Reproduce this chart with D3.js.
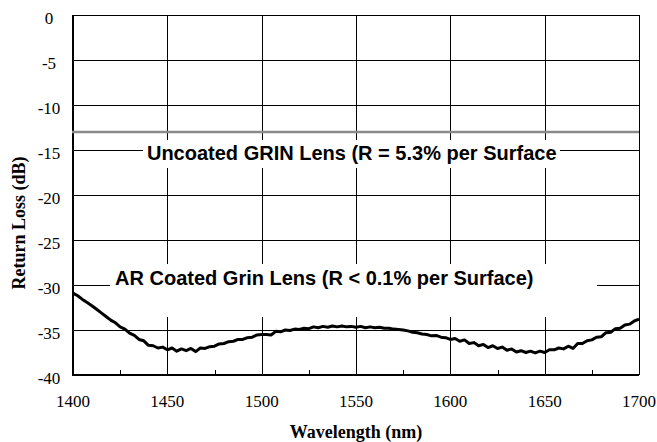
<!DOCTYPE html>
<html>
<head>
<meta charset="utf-8">
<script src="https://cdn.jsdelivr.net/npm/d3@7"></script>
<style>
  html, body { margin: 0; padding: 0; background: #fff; }
  svg { display: block; }
</style>
</head>
<body>
<svg id="chart" width="657" height="442"></svg>
<script>
// ---- data ----
const wavelengths = [
  1400,1402.5,1405,1407.5,1410,1412.5,1415,1417.5,1420,1422.5,
  1425,1427.5,1430,1432.5,1435,1437.5,1440,1442.5,1445,1447.5,
  1450,1452.5,1455,1457.5,1460,1462.5,1465,1467.5,1470,1472.5,
  1475,1477.5,1480,1482.5,1485,1487.5,1490,1492.5,1495,1497.5,
  1500,1502.5,1505,1507.5,1510,1512.5,1515,1517.5,1520,1522.5,
  1525,1527.5,1530,1532.5,1535,1537.5,1540,1542.5,1545,1547.5,
  1550,1552.5,1555,1557.5,1560,1562.5,1565,1567.5,1570,1572.5,
  1575,1577.5,1580,1582.5,1585,1587.5,1590,1592.5,1595,1597.5,
  1600,1602.5,1605,1607.5,1610,1612.5,1615,1617.5,1620,1622.5,
  1625,1627.5,1630,1632.5,1635,1637.5,1640,1642.5,1645,1647.5,
  1650,1652.5,1655,1657.5,1660,1662.5,1665,1667.5,1670,1672.5,
  1675,1677.5,1680,1682.5,1685,1687.5,1690,1692.5,1695,1697.5,
  1700
];
const returnLoss = [
  -30.9,-31.2,-31.6,-31.95,-32.3,-32.7,-33.1,-33.5,-33.9,-34.2,
  -34.65,-34.9,-35.35,-35.6,-36.05,-36.2,-36.7,-36.75,-37.0,-36.9,
  -37.2,-37.0,-37.35,-37.1,-37.3,-37.05,-37.4,-37.0,-37.05,-36.85,
  -36.8,-36.55,-36.5,-36.3,-36.25,-36.05,-36.05,-35.85,-35.8,-35.55,
  -35.5,-35.5,-35.55,-35.15,-35.2,-35.0,-35.05,-34.9,-34.95,-34.8,
  -34.85,-34.65,-34.75,-34.6,-34.7,-34.55,-34.65,-34.55,-34.65,-34.6,
  -34.7,-34.6,-34.75,-34.65,-34.75,-34.7,-34.8,-34.8,-34.9,-34.95,
  -35.0,-35.1,-35.25,-35.3,-35.45,-35.5,-35.65,-35.6,-35.8,-35.85,
  -36.05,-35.95,-36.25,-36.1,-36.5,-36.4,-36.75,-36.6,-36.95,-36.75,
  -37.05,-36.9,-37.25,-37.1,-37.45,-37.3,-37.5,-37.35,-37.55,-37.35,
  -37.5,-37.2,-37.2,-37.0,-37.1,-36.8,-37.05,-36.5,-36.5,-36.2,
  -36.1,-35.8,-35.75,-35.3,-35.25,-34.85,-34.8,-34.45,-34.35,-34.0,
  -33.8
];
const uncoatedLevel = [-13];           // reference level of uncoated lens (dB)
const xTicks = [1400,1450,1500,1550,1600,1650,1700];
const xMinorTicks = [1425,1475,1525,1575,1625,1675];
const yTicks = [0,-5,-10,-15,-20,-25,-30,-35,-40];
const labelTexts = ["Uncoated GRIN Lens (R = 5.3% per Surface", "AR Coated Grin Lens (R < 0.1% per Surface)"];
const xTitle = "Wavelength (nm)";
const yTitle = "Return Loss (dB)";

// ---- layout ----
const svg = d3.select("#chart");
const x = d3.scaleLinear().domain([1400, 1700]).range([73, 639]);
const y = d3.scaleLinear().domain([-40, 0]).range([375, 15]);
const serif = "'Liberation Serif', 'Times New Roman', serif";
const sans = "'Liberation Sans', Arial, sans-serif";

// gridlines
const grid = svg.append("g");
grid.selectAll("line.h").data(yTicks).join("line")
  .attr("x1", x(1400)).attr("x2", x(1700))
  .attr("y1", d => Math.round(y(d)) + 0.5).attr("y2", d => Math.round(y(d)) + 0.5)
  .attr("stroke", "#000").attr("stroke-width", 1);
grid.selectAll("line.v").data(xTicks).join("line")
  .attr("y1", y(0)).attr("y2", y(-40))
  .attr("x1", d => Math.round(x(d)) + 0.5).attr("x2", d => Math.round(x(d)) + 0.5)
  .attr("stroke", "#000").attr("stroke-width", 1);

// minor ticks on the bottom axis
svg.append("g").selectAll("line").data(xMinorTicks).join("line")
  .attr("x1", d => Math.round(x(d)) + 0.5).attr("x2", d => Math.round(x(d)) + 0.5)
  .attr("y1", y(-40)).attr("y2", y(-40) - 5)
  .attr("stroke", "#000").attr("stroke-width", 1);

// axes lines (thicker)
svg.append("line").attr("x1", x(1400)).attr("x2", x(1400)).attr("y1", y(0)).attr("y2", y(-40) + 1)
  .attr("stroke", "#000").attr("stroke-width", 2);
svg.append("line").attr("x1", x(1400) - 1).attr("x2", x(1700)).attr("y1", y(-40)).attr("y2", y(-40))
  .attr("stroke", "#000").attr("stroke-width", 2);

// uncoated reference line
svg.append("g").selectAll("line").data(uncoatedLevel).join("line")
  .attr("x1", x(1400) - 1).attr("x2", x(1700))
  .attr("y1", d => y(d)).attr("y2", d => y(d))
  .attr("stroke", "#8a8a8a").attr("stroke-width", 2.5);

// white label boxes
svg.append("rect")
  .attr("x", x(1437.1)).attr("y", y(-13.89))
  .attr("width", x(1658.1) - x(1437.1)).attr("height", y(-17.0) - y(-13.89))
  .attr("fill", "#fff");
svg.append("rect")
  .attr("x", x(1419.6)).attr("y", y(-27.67))
  .attr("width", x(1677.7) - x(1419.6)).attr("height", y(-33.56) - y(-27.67))
  .attr("fill", "#fff");

// label texts
svg.append("text").attr("x", x(1439.2)).attr("y", y(-16.1))
  .attr("font-family", sans).attr("font-weight", "bold").attr("font-size", 20)
  .attr("fill", "#000").text(labelTexts[0]);
svg.append("text").attr("x", x(1422.3)).attr("y", y(-30))
  .attr("font-family", sans).attr("font-weight", "bold").attr("font-size", 20)
  .attr("fill", "#000").text(labelTexts[1]);

// curve
const pts = wavelengths.map((w, i) => [w, returnLoss[i]]);
svg.append("path").datum(pts)
  .attr("d", d3.line().x(d => x(d[0])).y(d => y(d[1])))
  .attr("fill", "none").attr("stroke", "#000").attr("stroke-width", 3)
  .attr("stroke-linejoin", "round");

// tick labels
svg.append("g").selectAll("text").data(xTicks).join("text")
  .attr("x", d => x(d)).attr("y", 407)
  .attr("text-anchor", "middle")
  .attr("font-family", serif).attr("font-size", 17).attr("fill", "#000")
  .text(d => d);
svg.append("g").selectAll("text").data(yTicks).join("text")
  .attr("x", 49).attr("y", d => y(d) + 8.5)
  .attr("text-anchor", "middle")
  .attr("font-family", serif).attr("font-size", 17).attr("fill", "#000")
  .text(d => d === 0 ? "0" : "-" + Math.abs(d));

// axis titles
svg.append("text").attr("x", (x(1400) + x(1700)) / 2).attr("y", 438)
  .attr("text-anchor", "middle")
  .attr("font-family", serif).attr("font-weight", "bold").attr("font-size", 18)
  .attr("fill", "#000").text(xTitle);
svg.append("text").attr("transform", "translate(24.5,223) rotate(-90)")
  .attr("text-anchor", "middle")
  .attr("font-family", serif).attr("font-weight", "bold").attr("font-size", 18)
  .attr("fill", "#000").text(yTitle);
</script>
</body>
</html>
